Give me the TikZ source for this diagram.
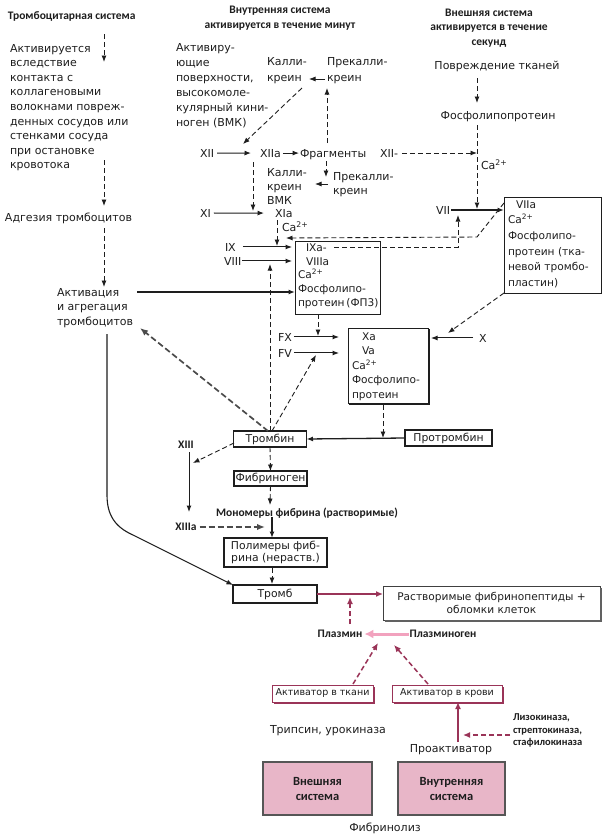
\documentclass[tikz,border=0pt]{standalone}
\usepackage{fontspec}
\setmainfont{DejaVu Sans}
\newfontfamily\hdfont{Carlito}
\usetikzlibrary{arrows.meta,calc}
\definecolor{maroon}{HTML}{9A3458}
\definecolor{pinkfill}{HTML}{E8B6C8}
\definecolor{lpink}{HTML}{F2A2BE}
\definecolor{ink}{HTML}{1E1E1E}
\begin{document}
\begin{tikzpicture}[x=1pt,y=-1pt,
  every node/.style={inner sep=0pt,outer sep=0pt,text=ink},
  tx/.style={font=\fontsize{11}{14.6}\selectfont,align=left},
  bt/.style={font=\fontsize{10.6}{13.8}\selectfont,align=left},
  hd/.style={font=\hdfont\bfseries\fontsize{11.5}{14.5}\selectfont,align=center},
  hdl/.style={font=\hdfont\bfseries\fontsize{10.5}{12.5}\selectfont,align=left},
  hb/.style={font=\hdfont\bfseries\fontsize{11.5}{14}\selectfont},
  ar/.style={draw=ink,line width=1pt,-{Latex[length=6.5pt,width=5pt]}},
  da/.style={ar,line width=0.9pt,dash pattern=on 5pt off 3pt},
  dk/.style={ar,line width=1.7pt,dash pattern=on 6pt off 3pt,draw=ink!80,-{Latex[length=8pt,width=6.5pt]}},
  ma/.style={draw=maroon,line width=1.5pt,-{Latex[length=7pt,width=6pt]}},
  md/.style={ma,dash pattern=on 5pt off 3pt},
  bx/.style={draw=ink,line width=0.8pt},
  tb/.style={draw=ink,line width=1.6pt,font=\fontsize{10.8}{13}\selectfont},
  mb/.style={draw=maroon,line width=1pt,font=\fontsize{9.5}{12}\selectfont},
  pb/.style={draw=ink!75,line width=1.2pt,fill=pinkfill,align=center,font=\hdfont\bfseries\fontsize{12.5}{15}\selectfont},
]
\useasboundingbox (0,0) rectangle (606,839);
\fill[white] (0,0) rectangle (606,839);

% ---------- headings
\node[hd,anchor=base west] (h1) at (8,19) {Тромбоцитарная система};
\node[hd] (h2) at (280,18) {Внутренняя система\\активируется в течение минут};
\node[hd] (h3) at (489,28) {Внешняя система\\активируется в течение\\секунд};

% ---------- left column
\coordinate (s0) at (104,34);
\coordinate (s1) at (104,62);
\node[tx,anchor=north west] (act) at (10,44) {Активируется\\вследствие\\контакта с\\коллагеновыми\\волокнами повреж-\\денных сосудов или\\стенками сосуда\\при остановке\\кровотока};
\coordinate (s2) at (104,160);
\coordinate (s3) at (104,206);
\node[tx,anchor=base west] (adg) at (5,221) {Адгезия тромбоцитов};
\coordinate (s4) at (104,228);
\coordinate (s5) at (104,287);
\node[tx,anchor=north west] (agr) at (57,288) {Активация\\и агрегация\\тромбоцитов};
\coordinate (agrR) at (137,292);
\coordinate (agrB) at (107,334);
\coordinate (agrA) at (140,328);

% ---------- internal system, top
\node[tx,anchor=north west,font=\fontsize{11}{15}\selectfont] (surf) at (176,43) {Активиру-\\ющие\\поверхности,\\высокомоле-\\кулярный кини-\\ноген (ВМК)};
\node[tx,anchor=north west,font=\fontsize{11}{16}\selectfont] (kal1) at (267,57) {Калли-\\креин};
\node[tx,anchor=north west,font=\fontsize{11}{16}\selectfont] (prk1) at (327,57) {Прекалли-\\креин};
\coordinate (k1) at (302,88);
\coordinate (k1e) at (243,144);
\coordinate (f1) at (327,143);
\coordinate (f1e) at (327,88);
\coordinate (p1) at (325,79);
\coordinate (p1e) at (309,79);

\node[tx,anchor=base west] (x12) at (200,157) {XII};
\node[tx,anchor=base west] (x12a) at (260,157) {XIIa};
\node[tx,anchor=base west] (frag) at (300,157) {Фрагменты};
\node[tx,anchor=base west] (x12b) at (380,157) {XII-};

\node[tx,anchor=north west,font=\fontsize{11}{14}\selectfont] (kal2) at (267,168) {Калли-\\креин\\ВМК};
\node[tx,anchor=north west,font=\fontsize{11}{14}\selectfont] (prk2) at (333,172) {Прекалли-\\креин};
\coordinate (f2) at (326,161);
\coordinate (f2e) at (326,177);
\coordinate (p2) at (328,184);
\coordinate (p2e) at (315,184);
\coordinate (a12) at (253,162);
\coordinate (a12e) at (253,211);

\node[tx,anchor=base west] (x11) at (200,217) {XI};
\node[tx,anchor=base west] (x11a) at (275,217) {XIa};
\node[tx,anchor=base west] (ca1) at (282,231) {Ca\textsuperscript{2+}};
\coordinate (c1) at (277,220);
\coordinate (c1e) at (277,246);

\node[tx,anchor=base west] (x9) at (225,251) {IX};
\node[tx,anchor=base west] (x8) at (224,265) {VIII};

% IXa box
\node[bx,anchor=north west,minimum width=85pt,minimum height=73pt] (b9) at (295,241) {};
\node[bt,anchor=north west] (b9t) at (298,243.5) {\hspace*{8pt}IXa-\\\hspace*{8pt}VIIIa\\Ca\textsuperscript{2+}\\Фосфолипо-\\протеин\,(ФП3)};

% ---------- external system
\node[tx] (pov) at (497,66) {Повреждение тканей};
\node[tx] (fpl) at (498,117) {Фосфолипопротеин};
\coordinate (e0) at (477,78);
\coordinate (e0e) at (477,103);
\coordinate (e1) at (477,125);
\coordinate (e2) at (477,209);
\node[tx,anchor=base west] (ca2) at (481,169) {Ca\textsuperscript{2+}};
\node[tx,anchor=base west] (x7) at (436,214) {VII};
\node[bx,anchor=north west,minimum width=97pt,minimum height=96pt] (b7) at (504,197) {};
\node[bt,anchor=north west,font=\fontsize{10.6}{15.6}\selectfont] (b7t) at (508,200.5) {\hspace*{8pt}VIIa\\Ca\textsuperscript{2+}\\Фосфолипо-\\протеин (тка-\\невой тромбо-\\пластин)};

\coordinate (d9a) at (334,247);
\coordinate (d9b) at (458,247);
\coordinate (d9c) at (458,215);
\coordinate (d7a) at (504,203);
\coordinate (d7b) at (477,237);
\coordinate (d7c) at (286,238);
\coordinate (d7x) at (448,333);

% ---------- X level
\node[tx,anchor=base west] (fxl) at (278,341) {FX};
\node[tx,anchor=base west] (fvl) at (278,357) {FV};
\node[tx,anchor=base west] (x10) at (479,342) {X};
\node[bx,anchor=north west,minimum width=80pt,minimum height=75pt] (b10) at (348,328) {};
\draw[ink,line width=2.2pt] ($(b10.north east)+(1,1)$) -- ($(b10.south east)+(1,1)$) -- ($(b10.south west)+(1,1)$);
\node[bt,anchor=north west,font=\fontsize{10.6}{14.5}\selectfont] (b10t) at (352,332.5) {\hspace*{10pt}Xa\\\hspace*{10pt}Va\\Ca\textsuperscript{2+}\\Фосфолипо-\\протеин};
\coordinate (fx) at (318,336);
\coordinate (fv) at (316,355);
\coordinate (v8) at (270,264);
\coordinate (pt) at (383,438);

% ---------- thrombin level
\node[tb,minimum width=73pt,minimum height=16pt] (trb) at (270,439) {Тромбин};
\node[tb,minimum width=87pt,minimum height=16pt] (ptrb) at (448.5,438) {Протромбин};
\node[tb,minimum width=73pt,minimum height=15pt] (fbg) at (270.5,478.5) {Фибриноген};
\node[hb] (x13) at (186,445) {XIII};
\node[hb] (x13a) at (186,527) {XIIIa};
\node[hb] (mono) at (307,513) {Мономеры фибрина (растворимые)};
\node[bx,line width=1.2pt,minimum width=103pt,minimum height=29pt,align=center,font=\fontsize{10.8}{12}\selectfont] (pol) at (275.5,552.5) {Полимеры фиб-\\рина (нераств.)};
\node[tb,minimum width=84pt,minimum height=18pt] (trm) at (275,594) {Тромб};
\coordinate (t13a) at (234,443);
\coordinate (t13b) at (193,463);
\coordinate (l13a) at (189,452);
\coordinate (l13b) at (189,512);
\coordinate (mm) at (265,527);
\coordinate (mo1) at (272,517);
\coordinate (mo2) at (272,538);
\coordinate (po1) at (272,568);
\coordinate (po2) at (272,584);
\coordinate (fb1) at (270,505);

% ---------- fibrinolysis
\node[draw=ink!85,line width=1pt,minimum width=217pt,minimum height=34pt,align=center,font=\fontsize{10.6}{13}\selectfont] (sol) at (491.5,603) {Растворимые фибринопептиды +\\обломки клеток};
\draw[ink!70,line width=2pt] ($(sol.north east)+(1,2)$) -- ($(sol.south east)+(1,1)$) -- ($(sol.south west)+(2,1)$);
\node[hb] (plm) at (340,634) {Плазмин};
\node[hb] (plg) at (443,634) {Плазминоген};
\coordinate (pm1) at (350,624);
\coordinate (pm2) at (350,597);
\node[mb,minimum width=101pt,minimum height=17pt] (akt) at (322.5,693.5) {Активатор в ткани};
\node[mb,minimum width=110pt,minimum height=17pt] (akk) at (447,693.5) {Активатор в крови};
\draw[maroon,line width=2pt] ($(akt.north east)+(1,2)$) -- ($(akt.south east)+(1,1)$) -- ($(akt.south west)+(2,1)$);
\draw[maroon,line width=2pt] ($(akk.north east)+(1,2)$) -- ($(akk.south east)+(1,1)$) -- ($(akk.south west)+(2,1)$);
\coordinate (ak1) at (353,684);
\coordinate (ak1e) at (378,643);
\coordinate (ak2) at (428,684);
\coordinate (ak2e) at (394,645);
\node[tx,anchor=base west] (trp) at (270,733) {Трипсин, урокиназа};
\node[tx] (pra) at (451,750) {Проактиватор};
\node[hdl,anchor=north west] (liz) at (513,714) {Лизокиназа,\\стрептокиназа,\\стафилокиназа};
\coordinate (lz1) at (510,735);
\coordinate (lz2) at (463,735);
\coordinate (pr1) at (458,742);
\node[pb,minimum width=109pt,minimum height=53pt] (ext) at (317.5,788.5) {Внешняя\\система};
\node[pb,minimum width=107pt,minimum height=53pt] (int) at (451.5,788.5) {Внутренняя\\система};
\node[tx] (fbl) at (385,828) {Фибринолиз};

% ================= connectors
\draw[da] (s0) -- (s1);
\draw[da] (s2) -- (s3);
\draw[da] (s4) -- (s5);
\draw[ar,line width=1.3pt] (agrR) -- (agrR -| b9.west);
\draw[ar,line width=1.1pt] (agrB) -- (107,495) .. controls (107,515) and (115,527) .. (133,535) -- (trm.north west);

\draw[da] (k1) -- (k1e);
\draw[da] (f1) -- (f1e);
\draw[ar,line width=0.8pt] (p1) -- (p1e);
\draw[ar,shorten <=3pt,shorten >=9pt] (x12.east) -- (x12a.west);
\draw[ar,shorten <=2pt,shorten >=1pt] (x12a.east) -- (x12a.east -| frag.west);
\draw[da,shorten <=4pt] (x12b.east) -- (x12b.east -| e1);
\draw[da] (f2) -- (f2e);
\draw[ar,line width=0.8pt] (p2) -- (p2e);
\draw[da] (a12) -- (a12e);
\draw[ar,shorten <=3pt,shorten >=11pt] (x11.east) -- (x11a.west);
\draw[da] (c1) -- (c1e);
\draw[ar,shorten <=7pt,shorten >=3pt] (x9.east) -- (x9.east -| b9.west);
\draw[ar,shorten <=1pt,shorten >=3pt] (x8.east) -- (x8.east -| b9.west);

\draw[da] (e0) -- (e0e);
\draw[da] (e1) -- (e2);
\draw[ar,line width=1.5pt,shorten <=1pt] (x7.east) -- (x7.east -| b7.west);
\draw[da] (d9a) -- (d9b) -- (d9c);
\draw[da] (d7a) -- (d7b) -- (d7c);
\draw[da] (b7.south west) -- (d7x);

\draw[ar,shorten <=2pt,shorten >=9pt] (fxl.east) -- (fxl.east -| b10.west);
\draw[ar,shorten <=2pt,shorten >=9pt] (fvl.east) -- (fvl.east -| b10.west);
\draw[ar,shorten <=6pt,shorten >=3pt] (x10.west) -- (x10.west -| b10.east);
\draw[da] (b9.south -| fx) -- (fx);
\draw[da] (trb.north) -- (v8);
\draw[da] ([xshift=2pt]trb.north) -- (fv);
\draw[dk] ([xshift=-2pt]trb.north) -- (agrA);
\draw[da,shorten <=2pt] (b10.south -| pt) -- (pt);
\draw[ar,line width=1.3pt] (ptrb.west) -- (trb.east);

\draw[da] (trb.south) -- (fbg.north);
\draw[da] (t13a) -- (t13b);
\draw[ar] (l13a) -- (l13b);
\draw[dk,shorten <=3pt] (x13a.east) -- (mm);
\draw[da] (fbg.south) -- (fb1);
\draw[ar,line width=2pt] (mo1) -- (mo2);
\draw[da] (po1) -- (po2);

\draw[ma] (trm.east) -- (trm.east -| sol.west);
\draw[md] (pm1) -- (pm2);
\draw[draw=lpink,line width=3pt,-{Latex[length=9pt,width=9pt]},shorten <=1pt,shorten >=2pt] (plg.west) -- (plm.east);
\draw[md] (ak1) -- (ak1e);
\draw[md] (ak2) -- (ak2e);
\draw[ma] (pr1) -- (pr1 |- akk.south);
\draw[md,line width=1.3pt] (lz1) -- (lz2);
\end{tikzpicture}
\end{document}
